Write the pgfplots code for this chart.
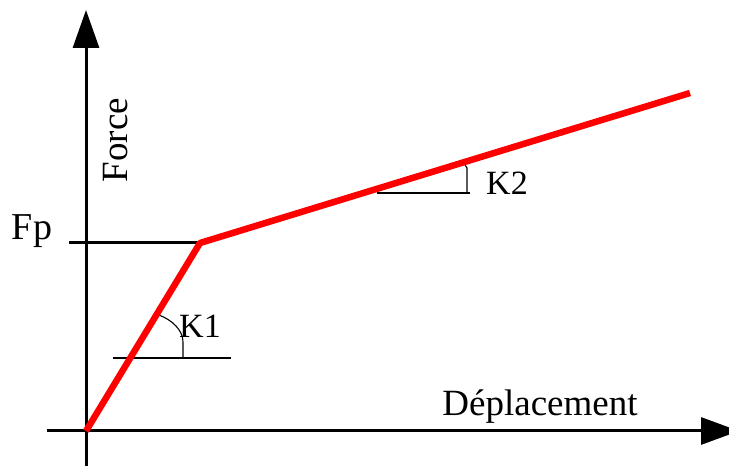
\documentclass[border=0pt]{standalone}
\usepackage{fontspec}
\setmainfont{Liberation Serif}
\usepackage{pgfplots}
\pgfplotsset{compat=1.18}
\usetikzlibrary{arrows.meta}
\begin{document}
\begin{tikzpicture}
\begin{axis}[at={(0,0)}, anchor=south west, scale only axis,
  width=729pt, height=466pt,
  xmin=-86, xmax=643, ymin=-35, ymax=431,
  hide axis, clip=false]
% axes
\addplot[black, line width=3pt, -{Triangle[length=38pt,width=27pt]}] coordinates {(-39,0) (653,0)};
\addplot[black, line width=3pt, -{Triangle[length=38pt,width=26pt]}] coordinates {(0,-40) (0,421)};
% Fp level
\addplot[black, line width=3pt] coordinates {(-17,188) (114,188)};
% slope markers
\addplot[black, line width=1.3pt] coordinates {(27,73) (145,73)};
\addplot[black, line width=1.3pt] coordinates {(291,238) (384,238)};
\draw[black, line width=1.1pt] (axis cs:97,73) -- (axis cs:97,89) .. controls (axis cs:97,101) and (axis cs:86,111) .. (axis cs:73,116);
\draw[black, line width=1.1pt] (axis cs:381,238) -- (axis cs:381,263) -- (axis cs:379,266);
% bilinear law
\addplot[red, line width=6.5pt, line join=round] coordinates {(0,0) (114,188) (604,338)};
% labels
\node[anchor=base, font=\fontsize{38}{44}\selectfont] at (axis cs:-54,191) {Fp};
\node[anchor=base, rotate=90, font=\fontsize{37}{44}\selectfont] at (axis cs:41,291) {Force};
\node[anchor=base, font=\fontsize{37}{44}\selectfont] at (axis cs:454,15) {Déplacement};
\node[anchor=base, font=\fontsize{34}{40}\selectfont] at (axis cs:114,93) {K1};
\node[anchor=base, font=\fontsize{34}{40}\selectfont] at (axis cs:421,236) {K2};
\end{axis}
\pgfresetboundingbox
\path (0,0) rectangle (729pt,466pt);
\end{tikzpicture}
\end{document}
